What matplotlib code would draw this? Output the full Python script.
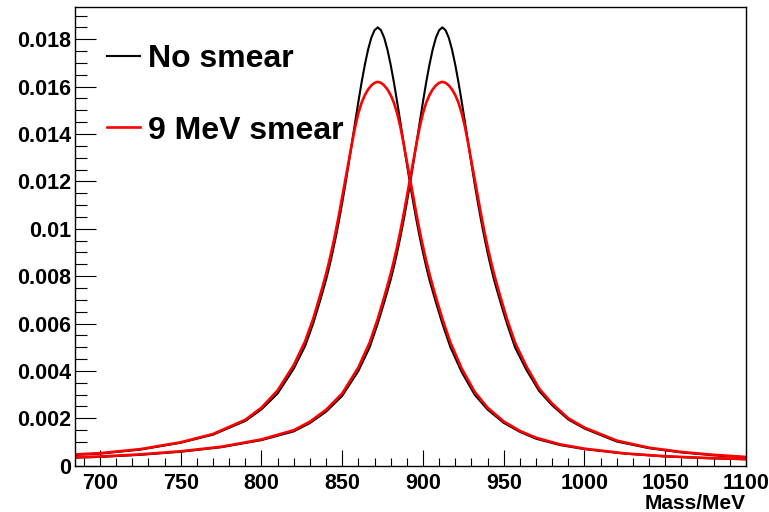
import matplotlib
matplotlib.use('Agg')
import matplotlib.pyplot as plt
from matplotlib.ticker import MultipleLocator, FixedLocator, FixedFormatter

# peak 1 (~872 MeV), no smear / 9 MeV smear
mass_a = [685, 700, 725, 750, 770, 790, 800, 810, 820, 827, 832,
          836, 838, 840, 842, 844, 846, 848, 850, 852, 854, 856, 858, 860, 862,
          864, 866, 868, 870, 872, 874, 876, 878, 880, 882, 884, 886, 888, 890,
          892, 894, 896, 898, 900, 902, 904, 906, 908,
          912, 917, 924, 932, 940, 950, 960, 970, 985, 1000, 1025, 1050, 1075, 1100]
nosmear_a = [0.00046, 0.00051, 0.00068, 0.00097, 0.00131, 0.00189, 0.00238, 0.00305,
             0.00410, 0.00505, 0.00600,
             0.00690, 0.00737, 0.00785, 0.00840, 0.00900, 0.00965, 0.01035, 0.01110,
             0.01190, 0.01275, 0.01362, 0.01450, 0.01536, 0.01618, 0.01692, 0.01756,
             0.01806, 0.01838, 0.01850, 0.01838, 0.01806, 0.01756, 0.01692, 0.01618,
             0.01536, 0.01450, 0.01362, 0.01275, 0.01190, 0.01110, 0.01035, 0.00965,
             0.00900, 0.00840, 0.00785, 0.00737, 0.00690,
             0.00600, 0.00500, 0.00395, 0.00300, 0.00237, 0.00181, 0.00143, 0.00114,
             0.00087, 0.00070, 0.00051, 0.00039, 0.00032, 0.00027]
smear_a = [0.00048, 0.00053, 0.00070, 0.00099, 0.00134, 0.00194, 0.00245, 0.00318,
           0.00425, 0.00525, 0.00620,
           0.00712, 0.00760, 0.00810, 0.00865, 0.00925, 0.00990, 0.01060, 0.01135,
           0.01210, 0.01285, 0.01360, 0.01430, 0.01488, 0.01532, 0.01564, 0.01588,
           0.01605, 0.01616, 0.01620, 0.01616, 0.01605, 0.01588, 0.01564, 0.01532,
           0.01488, 0.01430, 0.01360, 0.01285, 0.01210, 0.01135, 0.01060, 0.00990,
           0.00925, 0.00865, 0.00810, 0.00760, 0.00712,
           0.00620, 0.00520, 0.00410, 0.00312, 0.00245, 0.00187, 0.00147, 0.00118,
           0.00090, 0.00072, 0.00052, 0.00040, 0.00033, 0.00028]

# peak 2 (~912 MeV)
mass_b = [685, 700, 725, 750, 775, 800, 820, 830, 840, 850, 860, 867, 872,
          876, 878, 880, 882, 884, 886, 888, 890, 892, 894, 896, 898, 900, 902,
          904, 906, 908, 910, 912, 914, 916, 918, 920, 922, 924, 926, 928, 930,
          932, 934, 936, 938, 940, 942, 944, 946, 948,
          952, 957, 964, 972, 980, 990, 1000, 1020, 1040, 1060, 1080, 1100]
nosmear_b = [0.00034, 0.00037, 0.00046, 0.00059, 0.00078, 0.00108, 0.00145, 0.00180,
             0.00228, 0.00295, 0.00400, 0.00500, 0.00600,
             0.00690, 0.00737, 0.00785, 0.00840, 0.00900, 0.00965, 0.01035, 0.01110,
             0.01190, 0.01275, 0.01362, 0.01450, 0.01536, 0.01618, 0.01692, 0.01756,
             0.01806, 0.01838, 0.01850, 0.01838, 0.01806, 0.01756, 0.01692, 0.01618,
             0.01536, 0.01450, 0.01362, 0.01275, 0.01190, 0.01110, 0.01035, 0.00965,
             0.00900, 0.00840, 0.00785, 0.00737, 0.00690,
             0.00600, 0.00500, 0.00405, 0.00315, 0.00255, 0.00195, 0.00157, 0.00102,
             0.00074, 0.00056, 0.00044, 0.00035]
smear_b = [0.00036, 0.00039, 0.00048, 0.00061, 0.00080, 0.00111, 0.00150, 0.00186,
           0.00236, 0.00305, 0.00415, 0.00520, 0.00620,
           0.00712, 0.00760, 0.00810, 0.00865, 0.00925, 0.00990, 0.01060, 0.01135,
           0.01210, 0.01285, 0.01360, 0.01430, 0.01488, 0.01532, 0.01564, 0.01588,
           0.01605, 0.01616, 0.01620, 0.01616, 0.01605, 0.01588, 0.01564, 0.01532,
           0.01488, 0.01430, 0.01360, 0.01285, 0.01210, 0.01135, 0.01060, 0.00990,
           0.00925, 0.00865, 0.00810, 0.00760, 0.00712,
           0.00620, 0.00520, 0.00420, 0.00325, 0.00262, 0.00200, 0.00161, 0.00106,
           0.00076, 0.00058, 0.00046, 0.00037]

ytick_vals = [0, 0.002, 0.004, 0.006, 0.008, 0.010, 0.012, 0.014, 0.016, 0.018]
ytick_text = ['0', '0.002', '0.004', '0.006', '0.008', '0.01', '0.012', '0.014', '0.016', '0.018']


def main():
    plt.rcParams['font.family'] = 'Liberation Sans'
    plt.rcParams['font.weight'] = 'bold'

    fig = plt.figure(figsize=(7.69, 5.12), dpi=100)
    ax = fig.add_axes([0.0975, 0.0904, 0.8725, 0.8950])

    ax.plot(mass_a, nosmear_a, color='black', lw=1.5, label='No smear')
    ax.plot(mass_b, nosmear_b, color='black', lw=1.5)
    ax.plot(mass_a, smear_a, color='#ff0000', lw=1.9, label='9 MeV smear')
    ax.plot(mass_b, smear_b, color='#ff0000', lw=1.9)

    ax.set_xlim(684.5, 1100)
    ax.set_ylim(0, 0.01934)

    ax.xaxis.set_major_locator(MultipleLocator(50))
    ax.xaxis.set_minor_locator(MultipleLocator(10))
    ax.yaxis.set_major_locator(FixedLocator(ytick_vals))
    ax.yaxis.set_major_formatter(FixedFormatter(ytick_text))
    ax.yaxis.set_minor_locator(MultipleLocator(0.0005))

    ax.tick_params(axis='both', which='both', direction='in', top=False, right=False,
                   labelsize=15.5, width=0.8)
    ax.tick_params(axis='x', which='major', length=11.5, pad=5)
    ax.tick_params(axis='x', which='minor', length=6)
    ax.tick_params(axis='y', which='major', length=15, pad=3)
    ax.tick_params(axis='y', which='minor', length=8.5)
    for s in ax.spines.values():
        s.set_linewidth(1.0)

    ax.set_xlabel('Mass/MeV', loc='right', fontsize=15, fontweight='bold', labelpad=0.5)

    ax.legend(loc='upper left', bbox_to_anchor=(0.0477, 0.92), frameon=False,
              fontsize=23, handlelength=1.03, handletextpad=0.25, labelspacing=1.3,
              borderpad=0, borderaxespad=0)

    fig.savefig('out.png', dpi=100)


if __name__ == "__main__":
    main()
